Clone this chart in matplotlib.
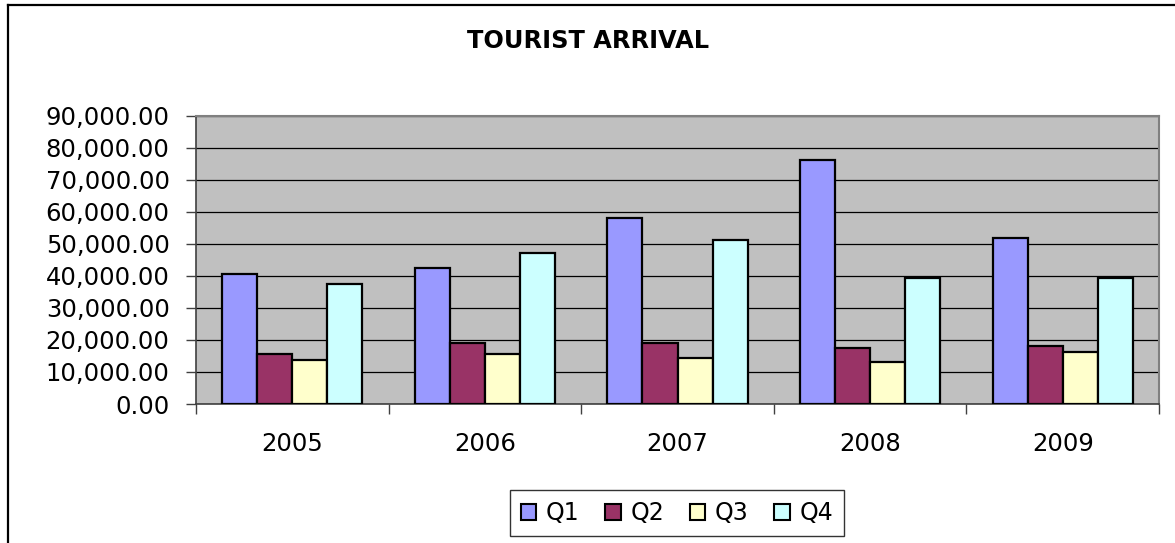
import matplotlib
matplotlib.use('Agg')
import matplotlib.pyplot as plt
import numpy as np
from matplotlib.lines import Line2D
from matplotlib.ticker import FuncFormatter, FixedLocator

# Du lieu doc tu bieu do
years = ['2005', '2006', '2007', '2008', '2009']
q1 = [40600, 42500, 58200, 76200, 51800]
q2 = [15500, 19200, 19200, 17500, 18000]
q3 = [13600, 15500, 14300, 13000, 16100]
q4 = [37500, 47200, 51100, 39300, 39300]
series_names = ['Q1', 'Q2', 'Q3', 'Q4']
colors = ['#9999FF', '#993366', '#FFFFCC', '#CCFFFF']

plt.rcParams['font.family'] = ['DejaVu Sans']

W, H = 1175, 543
fig = plt.figure(figsize=(W / 100, H / 100), dpi=100)

# Khung ngoai (chi thay canh tren va canh trai)
fig.add_artist(Line2D([8 / W, 1], [1 - 5 / H, 1 - 5 / H], color='black', lw=1.6))
fig.add_artist(Line2D([8 / W, 8 / W], [0, 1 - 5 / H], color='black', lw=1.6))

ax = fig.add_axes([196 / W, 1 - 404 / H, (1159 - 196) / W, (404 - 116) / H])
ax.set_facecolor('#C0C0C0')

x = np.arange(len(years))
bw = 0.182
for i, (vals, name, c) in enumerate(zip([q1, q2, q3, q4], series_names, colors)):
    ax.bar(x + (i - 1.5) * bw, vals, bw, color=c, edgecolor='black', linewidth=1.6,
           label=name, zorder=3)

ax.set_xlim(-0.5, len(years) - 0.5)
ax.set_ylim(0, 90000)
ax.set_yticks(np.arange(0, 90001, 10000))
ax.yaxis.set_major_formatter(FuncFormatter(lambda v, p: f'{v:,.2f}'))
ax.yaxis.grid(True, color='black', linewidth=0.9, zorder=1)
ax.set_axisbelow(True)

# Vach chia nhom o truc x, nhan nam o giua
ax.xaxis.set_major_locator(FixedLocator(np.arange(-0.5, len(years), 1.0)))
ax.xaxis.set_major_formatter(FuncFormatter(lambda v, p: ''))
ax.xaxis.set_minor_locator(FixedLocator(x))
ax.set_xticklabels(years, minor=True)
ax.tick_params(axis='x', which='major', length=7, width=1, direction='out', color='#404040')
ax.tick_params(axis='x', which='minor', length=0, pad=20, labelsize=17.5)
ax.tick_params(axis='y', length=7, width=1, direction='out', color='#404040', pad=12,
               labelsize=17.5)

for s in ['left', 'bottom']:
    ax.spines[s].set_color('#404040')
    ax.spines[s].set_linewidth(1.2)
for s in ['top', 'right']:
    ax.spines[s].set_color('#808080')
    ax.spines[s].set_linewidth(1.5)

fig.text(588 / W, 1 - 48.3 / H, 'TOURIST ARRIVAL', ha='center', va='baseline',
         fontsize=17.3, fontweight='bold')

leg = fig.legend(loc='center', bbox_to_anchor=(677 / W, 1 - 513 / H), ncol=4,
                 frameon=True, fancybox=False, edgecolor='black', fontsize=17,
                 handlelength=0.65, handleheight=0.65, handletextpad=0.4,
                 columnspacing=1.1, borderpad=0.45, borderaxespad=0)
leg.get_frame().set_linewidth(1.0)
for h in leg.legend_handles:
    h.set_linewidth(1.5)

fig.savefig('out.png', dpi=100)
